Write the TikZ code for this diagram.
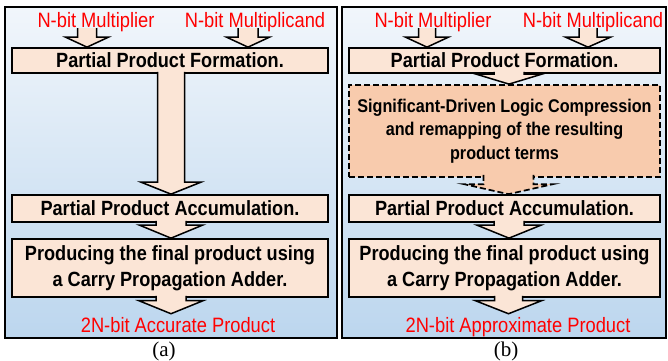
\documentclass[tikz,border=0pt]{standalone}
\usepackage{fontspec}
\setmainfont[FakeStretch=0.88]{Liberation Sans}
\newfontfamily\capfont{Liberation Serif}
\usetikzlibrary{calc}

\definecolor{peach}{HTML}{FBE5D6}
\definecolor{salmon}{HTML}{F8CBAD}
\definecolor{bgtop}{HTML}{F1F6FB}
\definecolor{bgbot}{HTML}{BCD6EE}

% hollow block arrow: [style] {start} {tip} {shaft half width} {head half width} {head length}
\newcommand{\blockarrow}[6][]{%
  \filldraw[barrow,#1] let \p1=#2, \p2=#3 in
    (\x1-#4pt,\y1) -- (\x1-#4pt,\y2+#6pt) -- (\x1-#5pt,\y2+#6pt) -- (\x1,\y2)
    -- (\x1+#5pt,\y2+#6pt) -- (\x1+#4pt,\y2+#6pt) -- (\x1+#4pt,\y1);}

\begin{document}
\begin{tikzpicture}[x=1pt,y=1pt,line join=miter,
    panel/.style={top color=bgtop, bottom color=bgbot, draw=black, line width=2pt},
    box/.style={draw=black, fill=peach, line width=1.7pt, inner sep=0pt, align=center,
      font=\fontsize{20.6}{26}\selectfont\bfseries},
    dbox/.style={box, fill=salmon, line width=1.8pt, dash pattern=on 6pt off 3pt,
      font=\fontsize{18.4}{23.5}\selectfont\bfseries},
    lbl/.style={red, anchor=base, inner sep=1pt, font=\fontsize{20.8}{22}\selectfont},
    captext/.style={anchor=base, inner sep=1pt, font=\capfont\fontsize{21}{22}\selectfont},
    barrow/.style={draw=black, fill=peach, line width=1.5pt}]

  \useasboundingbox (0,0) rectangle (668,360);

  % the two panels
  \shadedraw[panel] (5,22) rectangle (337,353);
  \shadedraw[panel] (342,22) rectangle (666,353);

  % (a) accurate multiplier
  \node[lbl] (multA) at (96,333) {N-bit Multiplier};
  \node[lbl] (mcandA) at (255,333) {N-bit Multiplicand};
  \node[box, minimum width=316pt, minimum height=25pt] (ppfA) at (170,299.5) {Partial Product Formation.};
  \node[box, minimum width=316pt, minimum height=27pt] (ppaA) at (170,151.5) {Partial Product Accumulation.};
  \node[box, minimum width=316pt, minimum height=58pt] (cpaA) at (170,92)
    {Producing the final product using\\a Carry Propagation Adder.};
  \node[lbl] (outA) at (178,28) {2N-bit Accurate Product};
  \node[captext] (capA) at (164,4) {(a)};

  \blockarrow{($(multA.base)+(-9,-1)$)}{(ppfA.north)}{9.5}{21.5}{10}
  \blockarrow{($(mcandA.base)+(-7,-1)$)}{(ppfA.north)}{10}{21.5}{10}
  \blockarrow{($(ppfA.south)+(1,2)$)}{(ppaA.north)}{13.5}{30}{12}
  \blockarrow{($(ppaA.south)+(1,2)$)}{(cpaA.north)}{15}{31.5}{13}
  \blockarrow{($(cpaA.south)+(1,2)$)}{($(outA.north)+(0,2)$)}{15}{32}{13}

  % (b) approximate multiplier
  \node[lbl] (multB) at (433,333) {N-bit Multiplier};
  \node[lbl] (mcandB) at (593,333) {N-bit Multiplicand};
  \node[box, minimum width=311pt, minimum height=25pt] (ppfB) at (504.5,299.5) {Partial Product Formation.};
  \node[dbox, minimum width=311pt, minimum height=92pt] (sdlcB) at (504.5,229)
    {Significant-Driven Logic Compression\\and remapping of the resulting\\product terms};
  \node[box, minimum width=311pt, minimum height=27pt] (ppaB) at (504.5,151.5) {Partial Product Accumulation.};
  \node[box, minimum width=311pt, minimum height=58pt] (cpaB) at (504.5,92)
    {Producing the final product using\\a Carry Propagation Adder.};
  \node[lbl] (outB) at (518,28) {2N-bit Approximate Product};
  \node[captext] (capB) at (506,4) {(b)};

  \blockarrow{($(multB.base)+(-6,-1)$)}{(ppfB.north)}{8.5}{21.5}{10}
  \blockarrow{($(mcandB.base)+(-5,-1)$)}{(ppfB.north)}{9}{22.5}{10}
  \blockarrow{($(ppfB.south)+(4.5,2)$)}{(sdlcB.north)}{15}{33}{10}
  \blockarrow[fill=salmon, line width=1.7pt, dash pattern=on 6pt off 3pt]{($(sdlcB.south)+(4,3)$)}{(ppaB.north)}{25}{44.5}{10}
  \blockarrow{($(ppaB.south)+(4.5,2)$)}{(cpaB.north)}{15}{32}{13}
  \blockarrow{($(cpaB.south)+(4,2)$)}{($(outB.north)+(0,2)$)}{14}{33}{13}

\end{tikzpicture}
\end{document}
